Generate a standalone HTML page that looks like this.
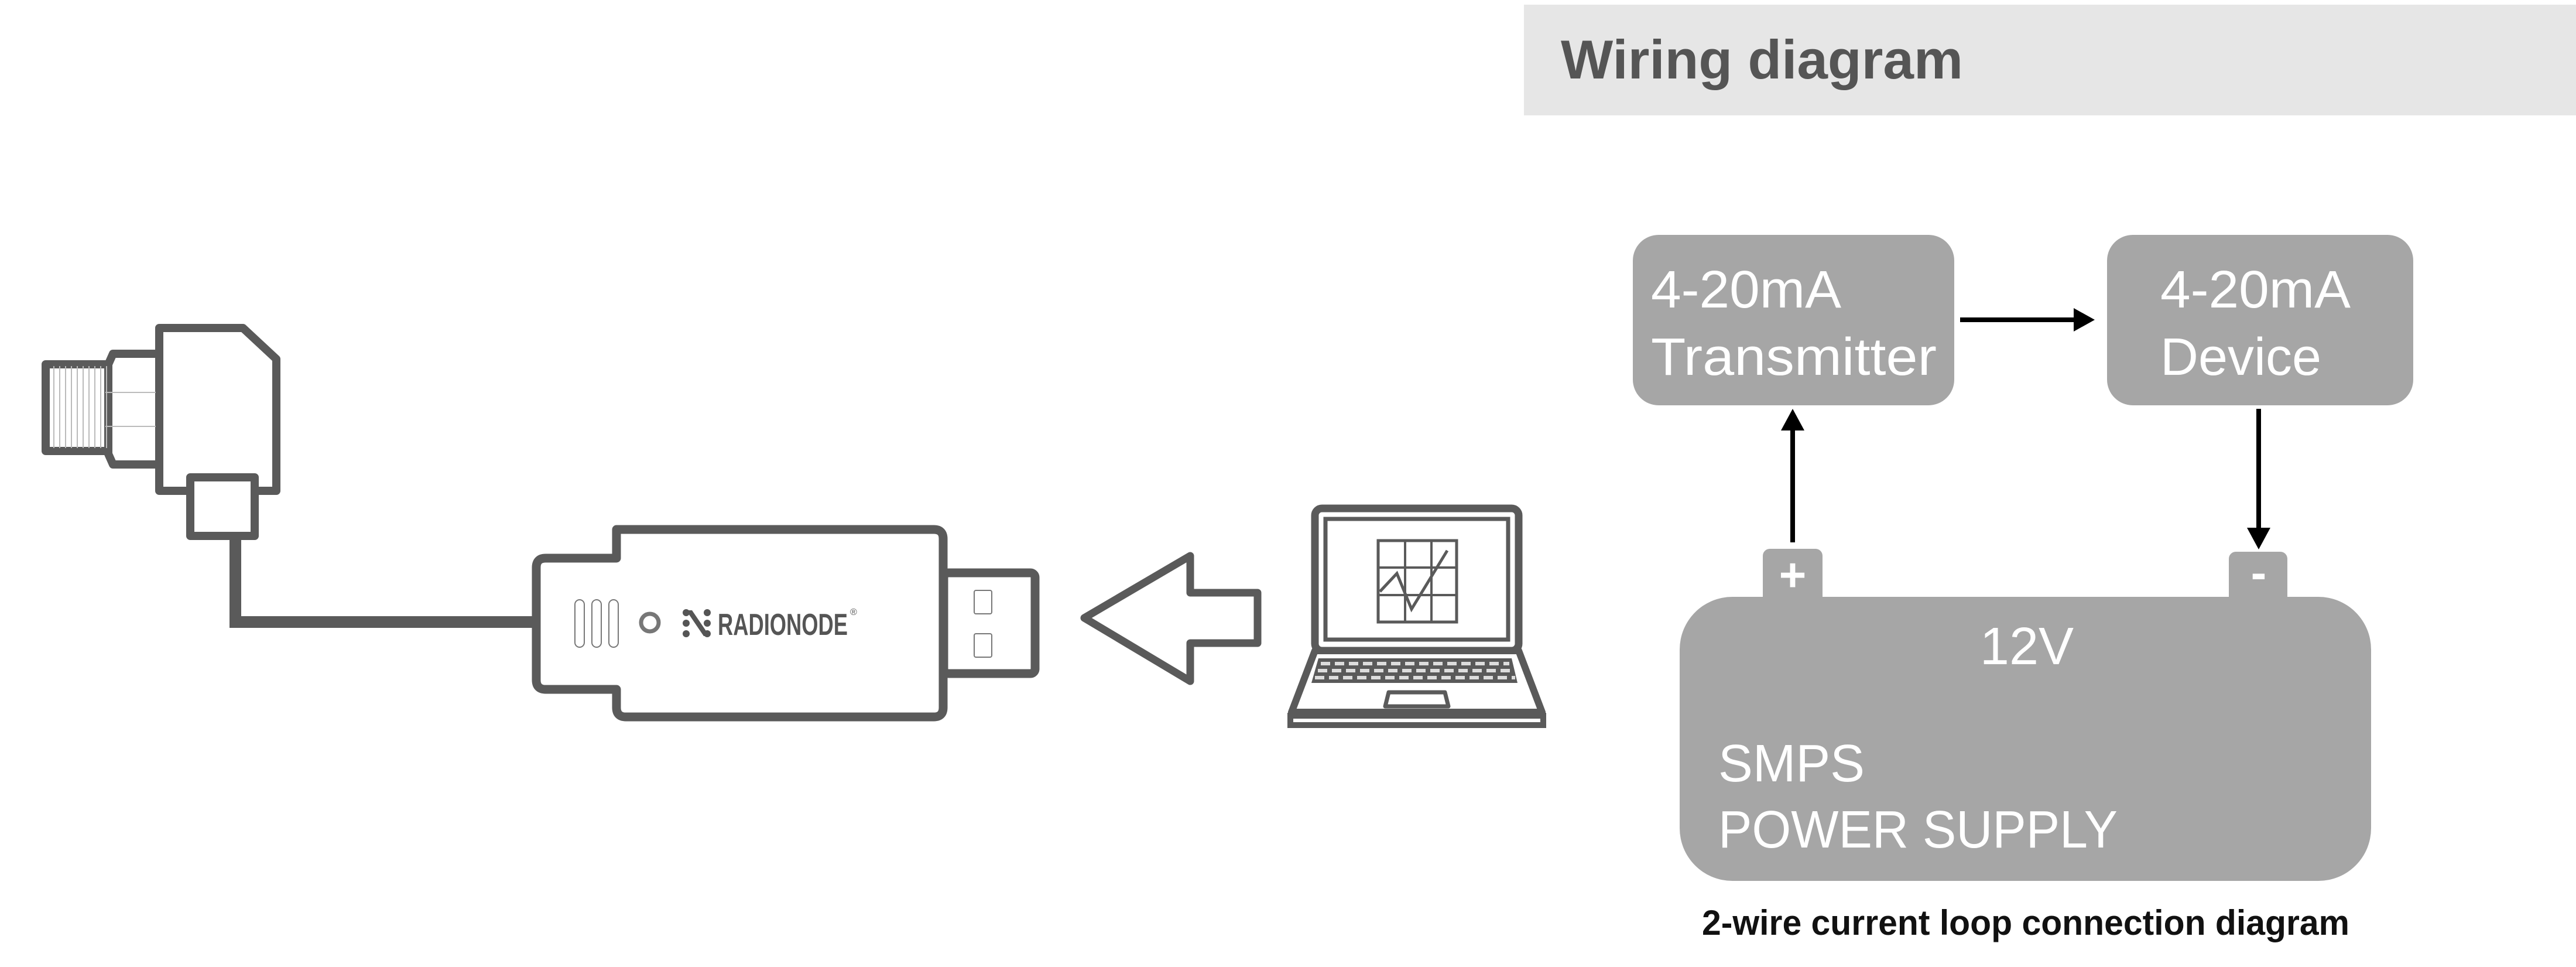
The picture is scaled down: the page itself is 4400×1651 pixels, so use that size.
<!DOCTYPE html>
<html><head><meta charset="utf-8"><style>
html,body{margin:0;padding:0;background:#fff;}
svg{display:block;}
text{font-family:"Liberation Sans",sans-serif;}
</style></head><body>
<svg width="4400" height="1651" viewBox="0 0 4400 1651" xmlns="http://www.w3.org/2000/svg">
<!-- header -->
<rect x="2603" y="8" width="1797" height="189" fill="#e6e6e6"/>
<text x="2666" y="134" font-size="94" font-weight="bold" fill="#555" textLength="687" lengthAdjust="spacingAndGlyphs">Wiring diagram</text>

<!-- wiring boxes -->
<g fill="#a6a6a6">
<rect x="2789" y="401" width="549" height="291" rx="44"/>
<rect x="3599" y="401" width="523" height="291" rx="44"/>
<rect x="3011" y="937" width="102" height="110" rx="12"/>
<rect x="3807" y="942" width="100" height="105" rx="12"/>
<rect x="2869" y="1019" width="1181" height="485" rx="90"/>
</g>
<g fill="#fff" font-size="90">
<text x="2820" y="525" textLength="325" lengthAdjust="spacingAndGlyphs">4-20mA</text>
<text x="2820" y="640" textLength="488" lengthAdjust="spacingAndGlyphs">Transmitter</text>
<text x="3690" y="525" textLength="325" lengthAdjust="spacingAndGlyphs">4-20mA</text>
<text x="3690" y="640" textLength="275" lengthAdjust="spacingAndGlyphs">Device</text>
<text x="3462" y="1134" text-anchor="middle">12V</text>
<text x="2935" y="1334" textLength="250" lengthAdjust="spacingAndGlyphs">SMPS</text>
<text x="2935" y="1447" textLength="682" lengthAdjust="spacingAndGlyphs">POWER SUPPLY</text>
<text x="3062" y="1009" font-size="80" font-weight="bold" text-anchor="middle">+</text>
<text x="3858" y="1005" font-size="80" font-weight="bold" text-anchor="middle">-</text>
</g>
<!-- arrows -->
<g stroke="#000" stroke-width="8" fill="none">
<line x1="3348" y1="546" x2="3545" y2="546"/>
<line x1="3062" y1="926" x2="3062" y2="728"/>
<line x1="3858" y1="698" x2="3858" y2="905"/>
</g>
<g fill="#000">
<polygon points="3578,546 3542,526 3542,566"/>
<polygon points="3062,698 3042,735 3082,735"/>
<polygon points="3858,938 3838,901 3878,901"/>
</g>
<text x="3460" y="1596" font-size="60" font-weight="bold" fill="#111" text-anchor="middle" textLength="1106" lengthAdjust="spacingAndGlyphs">2-wire current loop connection diagram</text>

<!-- sensor -->
<g stroke="#5a5a5a" stroke-width="14" fill="#fff" stroke-linejoin="round">
<rect x="78" y="622" width="115" height="148" fill="#fff"/>
<polygon points="193,604 272,604 272,793 193,793 185,775 185,622"/>
<polygon points="272,560 415,560 472,613 472,838 272,838"/>
<rect x="325" y="815" width="110" height="100"/>
</g>
<g stroke="#bbb" stroke-width="2">
<line x1="92" y1="625" x2="92" y2="765"/><line x1="102" y1="625" x2="102" y2="765"/>
<line x1="112" y1="625" x2="112" y2="765"/><line x1="122" y1="625" x2="122" y2="765"/>
<line x1="132" y1="625" x2="132" y2="765"/><line x1="142" y1="625" x2="142" y2="765"/>
<line x1="152" y1="625" x2="152" y2="765"/><line x1="162" y1="625" x2="162" y2="765"/>
<line x1="172" y1="625" x2="172" y2="765"/><line x1="182" y1="625" x2="182" y2="765"/>
<line x1="180" y1="670" x2="266" y2="670"/><line x1="180" y1="728" x2="266" y2="728"/>
</g>
<path d="M402 915 V1062 H912" stroke="#5a5a5a" stroke-width="20" fill="none"/>

<!-- USB -->
<g stroke="#5a5a5a" stroke-width="15" fill="#fff" stroke-linejoin="round">
<rect x="1612" y="978" width="156" height="172" rx="8"/>
<path d="M1053 904 H1595 Q1611 904 1611 920 V1208 Q1611 1224 1595 1224 H1069 Q1053 1224 1053 1208 V1177 H932 Q916 1177 916 1161 V969 Q916 953 932 953 H1053 Z"/>
</g>
<g stroke="#777" stroke-width="2" fill="none">
<rect x="1664" y="1008" width="30" height="40" rx="3"/>
<rect x="1664" y="1082" width="30" height="40" rx="3"/>
<rect x="982" y="1024" width="16" height="81" rx="8"/>
<rect x="1011" y="1024" width="16" height="81" rx="8"/>
<rect x="1040" y="1024" width="16" height="81" rx="8"/>
</g>
<circle cx="1110" cy="1063" r="15" stroke="#777" stroke-width="7" fill="none"/>
<g fill="#555">
<circle cx="1172" cy="1046" r="6"/><circle cx="1172" cy="1064" r="6"/><circle cx="1172" cy="1082" r="6"/>
<circle cx="1208" cy="1046" r="6"/><circle cx="1208" cy="1064" r="6"/><circle cx="1208" cy="1082" r="6"/>
<polygon points="1172,1042 1182,1042 1212,1086 1202,1086"/>
</g>
<text x="1226" y="1084" font-size="52" font-weight="bold" fill="#555" textLength="222" lengthAdjust="spacingAndGlyphs">RADIONODE</text>
<text x="1452" y="1050" font-size="16" fill="#555">®</text>

<!-- hollow arrow -->
<polygon points="1852,1055 2033,949 2033,1012 2148,1012 2148,1098 2033,1098 2033,1163" stroke="#5a5a5a" stroke-width="13" fill="#fff" stroke-linejoin="round"/>

<!-- laptop -->
<g stroke="#5a5a5a" fill="none">
<rect x="2246" y="868" width="348" height="243" rx="12" stroke-width="13"/>
<rect x="2264" y="886" width="312" height="206" stroke-width="7"/>
<rect x="2354" y="923" width="134" height="139" stroke-width="5"/>
<line x1="2400" y1="923" x2="2400" y2="1062" stroke-width="4"/>
<line x1="2445" y1="923" x2="2445" y2="1062" stroke-width="4"/>
<line x1="2354" y1="969" x2="2488" y2="969" stroke-width="4"/>
<line x1="2354" y1="1016" x2="2488" y2="1016" stroke-width="4"/>
<polyline points="2357,1010 2386,979 2411,1040 2472,940" stroke-width="5"/>
<polygon points="2246,1111 2594,1111 2634,1216 2206,1216" stroke-width="12" stroke-linejoin="round" fill="#fff"/>
<rect x="2204" y="1222" width="432" height="16" stroke-width="10"/>
<polygon points="2372,1182 2468,1182 2474,1206 2366,1206" stroke-width="7" stroke-linejoin="round"/>
</g>
<polygon points="2252,1124 2582,1124 2592,1166 2240,1166" fill="#5a5a5a"/>
<g stroke="#ddd" stroke-width="6" stroke-dasharray="16,8">
<line x1="2256" y1="1133" x2="2578" y2="1133"/>
<line x1="2251" y1="1145" x2="2583" y2="1145"/>
<line x1="2246" y1="1157" x2="2588" y2="1157"/>
</g>
</svg>
</body></html>
